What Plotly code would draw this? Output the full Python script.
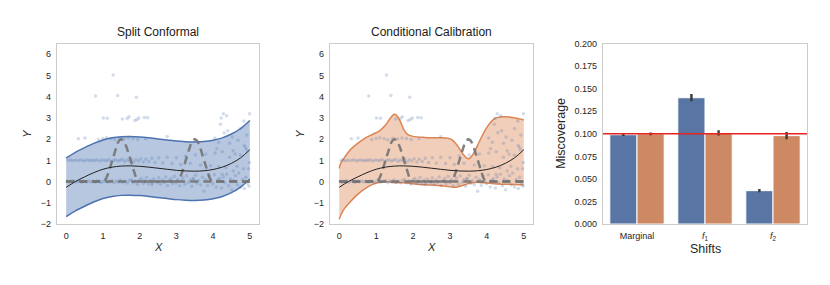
import plotly.graph_objects as go

# ---------------- data ----------------
grid_x = [0.0, 0.25, 0.5, 0.75, 1.0, 1.25, 1.5, 1.75, 2.0, 2.25, 2.5,
          2.75, 3.0, 3.25, 3.5, 3.75, 4.0, 4.25, 4.5, 4.75, 5.0]
mean_y = [-0.27, 0.0, 0.22, 0.42, 0.58, 0.68, 0.73, 0.74, 0.72, 0.68, 0.63,
          0.58, 0.53, 0.50, 0.49, 0.51, 0.57, 0.68, 0.86, 1.12, 1.50]
sc_upper = [1.11, 1.38, 1.60, 1.80, 1.96, 2.06, 2.11, 2.12, 2.10, 2.06, 2.01,
            1.96, 1.91, 1.88, 1.87, 1.89, 1.95, 2.06, 2.24, 2.50, 2.88]
sc_lower = [-1.65, -1.38, -1.16, -0.96, -0.80, -0.70, -0.65, -0.64, -0.66, -0.70, -0.75,
            -0.80, -0.85, -0.88, -0.89, -0.87, -0.81, -0.70, -0.52, -0.26, 0.12]

cc_x = [0.0, 0.05, 0.15, 0.3, 0.5, 0.7, 0.9, 1.1, 1.25, 1.35, 1.45, 1.5, 1.55, 1.65,
        1.75, 1.85, 2.0, 2.3, 2.6, 2.9, 3.05, 3.2, 3.35, 3.45, 3.5, 3.55, 3.65, 3.8,
        4.0, 4.2, 4.4, 4.6, 4.8, 5.0]
cc_upper = [0.62, 0.90, 1.15, 1.50, 1.80, 2.05, 2.22, 2.40, 2.65, 2.90, 3.12, 3.17, 3.12, 2.85,
            2.45, 2.22, 2.13, 2.08, 2.06, 2.05, 1.98, 1.70, 1.30, 1.12, 1.08, 1.12, 1.35, 1.90,
            2.55, 2.95, 3.05, 3.04, 2.98, 2.90]
cc_lower = [-1.78, -1.55, -1.25, -0.95, -0.60, -0.33, -0.13, -0.03, -0.01, -0.02, -0.04, -0.05, -0.05, -0.05,
            -0.06, -0.07, -0.10, -0.15, -0.17, -0.22, -0.26, -0.25, -0.18, -0.12, -0.09, -0.07, -0.04, -0.04,
            -0.07, -0.10, -0.12, -0.13, -0.14, -0.16]

bump_offsets = [0.00, 0.05, 0.10, 0.15, 0.20, 0.25, 0.30, 0.35, 0.40, 0.45, 0.50,
                0.55, 0.60, 0.65, 0.70, 0.75, 0.80, 0.85, 0.90, 0.95, 1.00]
bump_vals = [0, 0.05, 0.19, 0.41, 0.69, 1.0, 1.31, 1.59, 1.81, 1.95, 2.0,
             1.95, 1.81, 1.59, 1.31, 1.0, 0.69, 0.41, 0.19, 0.05, 0]
f1_start = 1.0
f2_start = 3.0

xs0 = [0.03, 0.09, 0.14, 0.20, 0.26, 0.31, 0.38, 0.43, 0.50, 0.55,
       0.61, 0.67, 0.72, 0.79, 0.85, 0.90, 0.96, 1.02, 1.08, 1.13,
       1.19, 1.25, 1.31, 1.37, 1.42, 1.48, 1.54, 1.60, 1.66, 1.71,
       1.77, 1.83, 1.89, 1.94, 2.00, 2.05, 2.10, 2.14, 2.19, 2.24,
       2.29, 2.33, 2.38, 2.43, 2.48, 2.52, 2.57, 2.62, 2.67, 2.71,
       2.76, 2.81, 2.86, 2.90, 2.95, 3.00, 3.04, 3.09, 3.14, 3.18,
       3.23, 3.28, 3.33, 3.37, 3.42, 3.47, 3.52, 3.56, 3.61, 3.66,
       3.71, 3.75, 3.80, 3.85, 3.90, 3.94, 3.99, 4.04, 4.09, 4.13,
       4.18, 4.23, 4.28, 4.32, 4.37, 4.42, 4.47, 4.51, 4.56, 4.61,
       4.66, 4.70, 4.75, 4.80, 4.85, 4.89, 4.94, 4.98, 2.35, 3.45]
ys0 = [0.02, -0.03, 0.01, 0.04, -0.02, 0.00, 0.03, -0.04, 0.02, -0.01,
       0.03, -0.02, 0.01, -0.03, 0.04, 0.00, -0.05, 0.02, 0.06, -0.03,
       0.01, 0.04, -0.06, 0.03, -0.02, 0.08, -0.04, 0.02, -0.07, 0.05,
       0.10, -0.05, 0.03, -0.12, 0.07, 0.15, -0.08, 0.04, 0.20, -0.10,
       0.06, -0.15, 0.12, 0.02, -0.06, 0.18, -0.12, 0.08, -0.03, 0.22,
       -0.18, 0.05, 0.14, -0.09, 0.25, -0.05, 0.10, -0.20, 0.03, 0.17,
       -0.12, 0.28, -0.04, 0.08, -0.22, 0.12, 0.30, -0.08, 0.05, -0.15,
       0.20, -0.45, 0.10, -0.18, 0.25, 0.02, -0.10, 0.32, -0.25, 0.08,
       0.15, -0.30, 0.22, -0.05, 0.35, -0.20, 0.12, -0.38, 0.05, 0.28,
       -0.15, 0.40, -0.25, 0.10, -0.32, 0.20, -0.10, -0.22, -0.06, 0.14]
xs1 = [0.05, 0.12, 0.18, 0.25, 0.33, 0.40, 0.47, 0.53, 0.60, 0.66,
       0.72, 0.78, 0.84, 0.91, 0.97, 1.04, 1.10, 1.16, 1.23, 1.29,
       1.35, 1.41, 1.47, 1.53, 1.59, 1.65, 1.72, 1.78, 1.84, 1.90,
       1.97, 2.03, 2.10, 2.17, 2.25, 2.33, 2.42, 2.52, 2.63, 2.75,
       2.88, 3.00, 3.12, 3.25, 3.38, 3.52, 3.66, 3.80, 3.93, 4.05,
       4.15, 4.25, 4.35, 4.45, 4.55, 4.65, 4.74, 4.83, 4.91, 4.99]
ys1 = [1.00, 1.02, 0.98, 1.01, 0.99, 1.03, 0.97, 1.00, 1.02, 0.98,
       1.01, 0.99, 1.03, 0.97, 1.02, 1.00, 0.98, 1.04, 0.96, 1.01,
       1.03, 0.97, 1.00, 1.05, 0.95, 1.02, 0.98, 1.06, 0.94, 1.03,
       0.97, 1.08, 0.92, 1.05, 0.95, 1.10, 0.90, 1.12, 0.88, 1.15,
       0.85, 1.12, 0.80, 1.20, 0.86, 1.25, 0.78, 1.30, 0.75, 1.35,
       0.70, 1.40, 0.65, 1.15, 1.45, 0.72, 1.25, 0.60, 1.50, 0.90]
xs2 = [0.33, 0.51, 0.88, 1.00, 1.10, 1.22, 1.32, 1.45, 1.58, 1.70,
       1.82, 1.95, 2.16, 2.75, 1.01, 1.12, 1.53, 1.66, 1.71, 1.87,
       1.93, 1.98, 2.13, 2.22, 0.80, 1.40, 1.91, 1.28, 4.28, 4.22,
       4.37, 4.99, 4.84, 4.20, 4.10, 4.30, 4.45, 4.60, 4.75, 4.85,
       4.92, 4.97, 4.55, 4.25, 4.05, 4.68, 4.40, 4.15, 4.88, 4.52]
ys2 = [2.02, 2.05, 1.98, 2.03, 2.06, 2.02, 1.97, 2.04, 2.01, 2.05,
       2.03, 1.98, 2.02, 2.12, 3.00, 2.98, 2.95, 2.97, 3.05, 2.88,
       2.92, 3.00, 3.02, 3.01, 4.03, 4.05, 3.97, 5.02, 3.20, 3.00,
       3.10, 3.20, 2.85, 2.70, 1.55, 2.30, 1.80, 1.30, 2.50, 1.70,
       2.20, 0.60, 0.50, 0.35, 2.05, 1.95, 2.40, 1.85, 1.60, 2.10]

shifts = ["Marginal", "<i>f</i><sub>1</sub>", "<i>f</i><sub>2</sub>"]
sc_miscov = [0.099, 0.140, 0.037]
cc_miscov = [0.100, 0.101, 0.098]
sc_err = [0.0015, 0.004, 0.0018]
cc_err = [0.0015, 0.003, 0.004]
target_level = 0.1

panel_titles = ["Split Conformal", "Conditional Calibration"]
xy_ticks = [-2, -1, 0, 1, 2, 3, 4, 5, 6]
x_ticks = [0, 1, 2, 3, 4, 5]
bar_ticks = [0.0, 0.025, 0.05, 0.075, 0.1, 0.125, 0.15, 0.175, 0.2]

# ---------------- style ----------------
BLUE = "#4C72B0"
ORANGE = "#DD8452"
BLUE_FILL = "rgba(76,114,176,0.4)"
ORANGE_FILL = "rgba(221,132,82,0.4)"
BAR_BLUE = "#5975a4"
BAR_ORANGE = "#cc8963"
PT = "rgba(76,114,176,0.25)"
FONT = "Liberation Sans, Arial, Helvetica, sans-serif"
TXT = "#262626"
FRAME = "#cccccc"

H = 285.0
def py(px):
    return (H - px) / H

doms = [[57 / 830, 259 / 830], [330 / 830, 533 / 830], [603 / 830, 807 / 830]]
ydom = [py(227), py(40)]

fig = go.Figure()

pts_x = xs0 + xs1 + xs2
pts_y = ys0 + ys1 + ys2

bands = [(grid_x, sc_upper, sc_lower, BLUE, BLUE_FILL),
         (cc_x, cc_upper, cc_lower, ORANGE, ORANGE_FILL)]

for i, (bx, bu, bl, lc, fc) in enumerate(bands):
    xa = "x" if i == 0 else "x2"
    ya = "y" if i == 0 else "y2"
    fig.add_trace(go.Scatter(x=bx, y=bl, mode="lines", line=dict(color=lc, width=1.5, shape="spline", smoothing=0.8),
                             xaxis=xa, yaxis=ya, showlegend=False, hoverinfo="skip"))
    fig.add_trace(go.Scatter(x=bx, y=bu, mode="lines", line=dict(color=lc, width=1.5, shape="spline", smoothing=0.8),
                             fill="tonexty", fillcolor=fc,
                             xaxis=xa, yaxis=ya, showlegend=False, hoverinfo="skip"))
    fig.add_trace(go.Scatter(x=pts_x, y=pts_y, mode="markers",
                             marker=dict(color=PT, size=3.5, line=dict(width=0)),
                             xaxis=xa, yaxis=ya, showlegend=False, hoverinfo="skip"))
    for start in (f1_start, f2_start):
        fx = [0.0] + [start + o for o in bump_offsets] + [5.0]
        fy = [0.0] + bump_vals + [0.0]
        fig.add_trace(go.Scatter(x=fx, y=fy, mode="lines",
                                 line=dict(color="rgba(115,115,115,0.9)", width=2.5, dash="8px,5px"),
                                 xaxis=xa, yaxis=ya, showlegend=False, hoverinfo="skip"))
    fig.add_trace(go.Scatter(x=grid_x, y=mean_y, mode="lines",
                             line=dict(color="#222222", width=1, shape="spline"),
                             xaxis=xa, yaxis=ya, showlegend=False, hoverinfo="skip"))

# bar chart
fig.add_trace(go.Bar(x=shifts, y=sc_miscov, marker=dict(color=BAR_BLUE, line=dict(color="white", width=1)),
                     error_y=dict(type="data", array=sc_err, color="#3a3a3a", thickness=2.4, width=0),
                     xaxis="x3", yaxis="y3", showlegend=False))
fig.add_trace(go.Bar(x=shifts, y=cc_miscov, marker=dict(color=BAR_ORANGE, line=dict(color="white", width=1)),
                     error_y=dict(type="data", array=cc_err, color="#3a3a3a", thickness=2.4, width=0),
                     xaxis="x3", yaxis="y3", showlegend=False))

axis_common = dict(showgrid=False, zeroline=False, showline=True, mirror=True,
                   linecolor=FRAME, linewidth=1.25, ticks="outside", ticklen=3,
                   tickcolor="rgba(0,0,0,0)", tickfont=dict(family=FONT, size=9, color=TXT))

layout = dict(
    width=830, height=285, margin=dict(l=0, r=0, t=0, b=0),
    paper_bgcolor="white", plot_bgcolor="white",
    barmode="group", bargap=0.2, bargroupgap=0.0,
    font=dict(family=FONT, color=TXT),
    xaxis=dict(domain=doms[0], anchor="y", range=[-0.25, 5.25], tickvals=x_ticks, **axis_common),
    yaxis=dict(domain=ydom, anchor="x", range=[-2, 6.5], tickvals=xy_ticks, **axis_common),
    xaxis2=dict(domain=doms[1], anchor="y2", range=[-0.25, 5.25], tickvals=x_ticks, **axis_common),
    yaxis2=dict(domain=ydom, anchor="x2", range=[-2, 6.5], tickvals=xy_ticks, **axis_common),
    xaxis3=dict(domain=doms[2], anchor="y3", range=[-0.5, 2.5], **axis_common),
    yaxis3=dict(domain=ydom, anchor="x3", range=[0, 0.2], tickvals=bar_ticks, tickformat=".3f", **axis_common),
)
fig.update_layout(**layout)

fig.add_shape(type="line", xref="x3 domain", yref="y3", x0=0, x1=1, y0=target_level, y1=target_level,
              line=dict(color="#e8221f", width=1.4))

ann = []
for i, t in enumerate(panel_titles):
    cx = (doms[i][0] + doms[i][1]) / 2
    ann.append(dict(text=t, x=cx, y=py(28), xref="paper", yref="paper", showarrow=False,
                    font=dict(family=FONT, size=12, color="#1a1a1a"), xanchor="center", yanchor="middle"))
    ann.append(dict(text="<i>X</i>", x=cx, y=py(251), xref="paper", yref="paper", showarrow=False,
                    font=dict(family=FONT, size=11, color=TXT), xanchor="center", yanchor="middle"))
ann.append(dict(text="<i>Y</i>", x=27 / 830, y=(ydom[0] + ydom[1]) / 2, xref="paper", yref="paper",
                showarrow=False, textangle=-90, font=dict(family=FONT, size=11, color=TXT),
                xanchor="center", yanchor="middle"))
ann.append(dict(text="<i>Y</i>", x=300 / 830, y=(ydom[0] + ydom[1]) / 2, xref="paper", yref="paper",
                showarrow=False, textangle=-90, font=dict(family=FONT, size=11, color=TXT),
                xanchor="center", yanchor="middle"))
ann.append(dict(text="Miscoverage", x=561 / 830, y=(ydom[0] + ydom[1]) / 2, xref="paper", yref="paper",
                showarrow=False, textangle=-90, font=dict(family=FONT, size=12.5, color=TXT),
                xanchor="center", yanchor="middle"))
ann.append(dict(text="Shifts", x=(doms[2][0] + doms[2][1]) / 2, y=py(253), xref="paper", yref="paper",
                showarrow=False, font=dict(family=FONT, size=12.5, color=TXT),
                xanchor="center", yanchor="middle"))
fig.update_layout(annotations=ann)

fig.write_html("out.html", config={"displayModeBar": False},
               post_script="document.body.style.margin='0px';document.body.style.overflow='hidden';")
